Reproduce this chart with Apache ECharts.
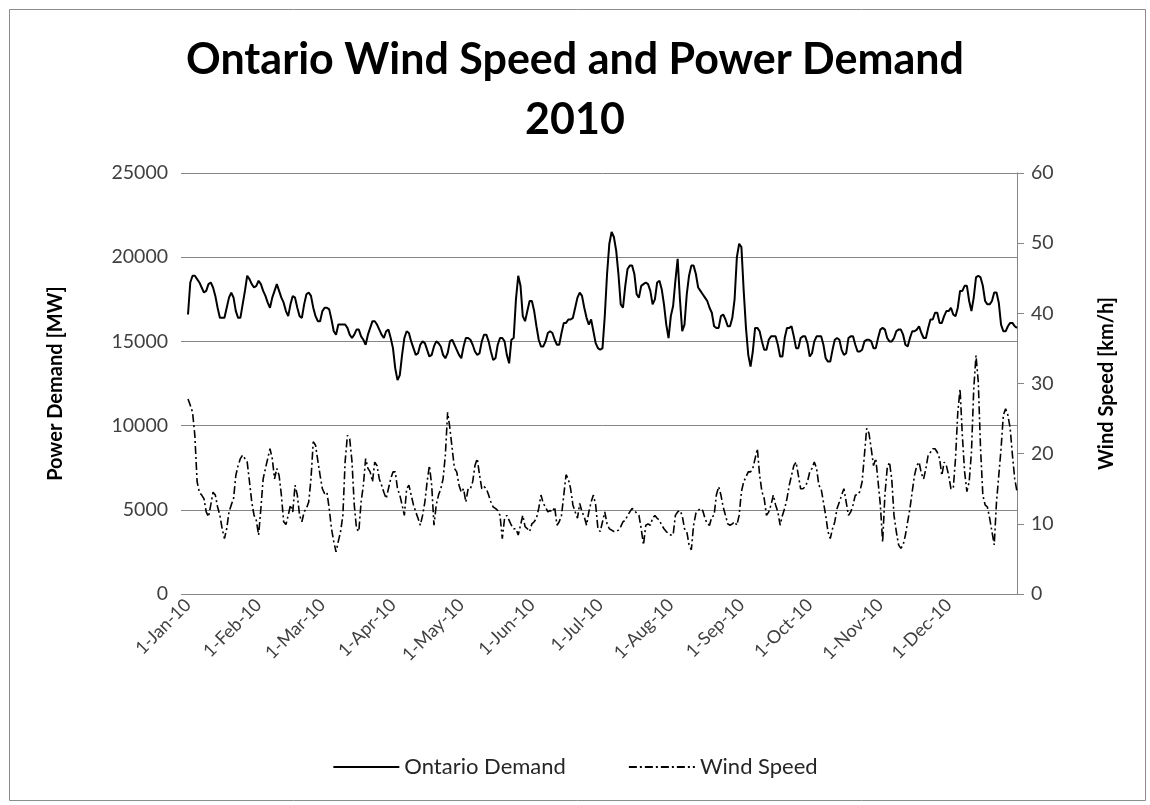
<!DOCTYPE html>
<html>
<head>
<meta charset="utf-8">
<script src="https://cdn.jsdelivr.net/npm/echarts@6/dist/echarts.min.js"></script>
<style>
  html, body { margin: 0; padding: 0; background: #fff; }
  #chart { width: 1150px; height: 805px; }
</style>
</head>
<body>
<div id="chart"></div>
<script>
// Daily values for 2010 (1-Jan-10 .. 31-Dec-10)
const demandJanFeb = [16600, 18500, 18900, 18900, 18700, 18500, 18200, 17900, 18000, 18400,
  18500, 18200, 17700, 17000, 16400, 16400, 16400, 17000, 17600, 17900,
  17600, 16800, 16400, 16400, 17200, 18000, 18900, 18700, 18400, 18200,
  18300, 18600, 18400, 18000, 17700, 17300, 17000, 17600, 18000, 18400,
  18000, 17600, 17300, 16800, 16500, 17200, 17700, 17600, 17000, 16500,
  16400, 17200, 17800, 17900, 17700, 17000, 16500, 16200];
const demandMarApr = [16200, 16800,
  17000, 17000, 16900, 16300, 15600, 15400, 16000, 16000, 16000, 16000,
  15800, 15400, 15200, 15400, 15700, 15700, 15300, 15100, 14800, 15400,
  15800, 16200, 16200, 16000, 15700, 15400, 15200, 15600, 15700, 15200,
  14600, 13400, 12700, 13000, 14200, 15200, 15600, 15500, 15000, 14600,
  14200, 14300, 14800, 15000, 14900, 14500, 14100, 14200, 14700, 15000,
  14900, 14700, 14200, 14000, 14300, 15000, 15100, 14800];
const demandMayJun = [14500, 14200,
  14000, 14700, 15200, 15200, 15100, 14800, 14400, 14200, 14300, 15000,
  15400, 15400, 15000, 14400, 13900, 14000, 14800, 15200, 15200, 15000,
  14200, 13700, 15100, 15200, 17500, 18900, 18300, 16500, 16200, 16800,
  17400, 17400, 16800, 15900, 15100, 14700, 14700, 15000, 15500, 15600,
  15500, 15100, 14800, 14800, 15500, 16100, 16100, 16300, 16300, 16400,
  17000, 17600, 17900, 17700, 17000, 16400, 16000, 16300, 15600, 14900];
const demandJulAug = [14600, 14500, 14600, 16500, 19000, 20800, 21500, 21200, 20400, 19000,
  17200, 17000, 18300, 19300, 19500, 19500, 19000, 17800, 17600, 18300,
  18400, 18500, 18400, 18000, 17200, 17500, 18500, 18600, 18100, 17200,
  16000, 15200, 16500, 17100, 18600, 19900, 17500, 15600, 16000, 17800,
  18900, 19500, 19500, 19000, 18200, 18000, 17800, 17600, 17400, 17000,
  16700, 15900, 15800, 15800, 16500, 16600, 16300, 15900, 15900, 16400,
  17500];
const demandSepOct = [20000, 20800, 20600, 18000, 15800, 14200, 13500, 14400, 15800,
  15800, 15600, 15000, 14500, 14500, 15100, 15300, 15300, 15300, 14800,
  14100, 14100, 15200, 15800, 15800, 15900, 15300, 14600, 14600, 15200,
  15300, 15300, 14900, 14100, 14300, 15000, 15300, 15300, 15300, 14800,
  14000, 13800, 13800, 14500, 15100, 15200, 15100, 14500, 14200, 14300,
  15200, 15300, 15300, 14800, 14400, 14400, 14500, 15000, 15100, 15100,
  15000];
const demandNovDec = [14600, 14600, 15200, 15700, 15800, 15700, 15200, 15000, 15000,
  15200, 15600, 15700, 15700, 15400, 14800, 14700, 15200, 15600, 15600,
  15700, 15900, 15500, 15200, 15200, 15800, 16300, 16300, 16700, 16700,
  16100, 16100, 16500, 16800, 16800, 17000, 16600, 16500, 17000, 18000,
  18000, 18300, 18300, 17400, 16800, 17600, 18800, 18900, 18800, 18300,
  17400, 17200, 17200, 17400, 17900, 17900, 17300, 16000, 15600, 15600,
  15900, 16100, 16100, 15900, 15800];

const windJanFeb = [27.8, 26.9, 25.9, 22.6, 16, 14.5, 14.1, 13.6, 11.7, 11,
  12.7, 14.5, 14.1, 12.4, 11.2, 9.3, 7.9, 9.3, 11.7, 12.7,
  13.6, 16.9, 18.3, 19.3, 19.8, 19.3, 18.8, 16, 13.1, 11.2,
  10.5, 8.4, 12.2, 16.4, 17.9, 19.3, 20.7, 19.3, 16.4, 17.9,
  16.9, 14.1, 10.3, 9.9, 11.2, 12.7, 11.7, 15.5, 14.1, 11.2,
  10.3, 11.7, 12.2, 13.1, 16.4, 21.7, 21.2, 19.0];
const windMarApr = [16.9, 15,
  14.3, 14.5, 12.2, 9.3, 7.5, 6, 7.5, 8.9, 11.2, 18.9,
  22.6, 22.1, 18.9, 12.7, 9.3, 8.9, 13.1, 15.5, 19.3, 17.9,
  17.4, 16, 18.8, 18.3, 16.4, 15.5, 14.5, 13.6, 15, 16.4,
  17.4, 17.4, 15, 14.1, 12.7, 11.2, 15, 15.5, 14.1, 12.7,
  11.7, 10.8, 9.8, 11.2, 13.1, 16, 18.3, 15.5, 9.8, 12.7,
  14.1, 15, 16.4, 19.8, 25.9, 23.6, 20.7, 17.9];
const windMayJun = [17.4, 15.5,
  14.5, 15, 13.1, 15, 15, 16, 18.3, 19.3, 17, 15,
  15.3, 15, 14.1, 13.1, 12.4, 12.2, 11.9, 11.2, 7.9, 10.8,
  11.2, 10.5, 9.8, 9.3, 9.3, 8.4, 9.8, 11.2, 9.6, 9.3,
  8.9, 10, 10.3, 10.8, 12.2, 14.1, 12.9, 12.4, 11.7, 11.9,
  11.7, 12.4, 9.8, 10.3, 11.2, 14.1, 17, 16.4, 15, 12.7,
  11.7, 10.8, 12.9, 11.7, 11, 9.8, 11.7, 13.1, 14.1, 12.7];
const windJulAug = [9.3, 8.9, 10.3, 11.7, 10, 9.3, 9.1, 8.9, 8.9, 9.1,
  9.6, 10.3, 10.5, 11.2, 11.7, 12.2, 11.9, 11.5, 11.2, 9.3,
  7, 9.8, 10, 9.8, 10.8, 11.2, 10.8, 10.5, 9.8, 9.3,
  8.9, 8.6, 8.4, 8.4, 11.2, 11.7, 11.9, 11.2, 9.3, 8.9,
  7, 6.3, 9.8, 11.5, 11.9, 12.2, 11.9, 10.8, 10, 9.8,
  11, 11.2, 14.1, 15.3, 14.1, 12.4, 11.2, 10, 9.8, 10,
  10.3];
const windSepOct = [9.8, 11.2, 14.6, 16, 16.7, 17.4, 17.4, 17.9, 19.3,
  20.7, 16.9, 14.6, 13.6, 11.2, 11.7, 12.7, 14.1, 12.7, 11.7,
  9.8, 11.2, 12.2, 13.6, 15.5, 16.9, 18.3, 18.8, 16.9, 15,
  15, 15.3, 16, 17.4, 17.9, 18.8, 17.9, 15.5, 15, 13.1,
  11.2, 8.9, 7.9, 9.3, 10.3, 12.2, 13.1, 14.1, 15, 13.1,
  11.2, 11.7, 12.7, 14.1, 14.1, 14.6, 16, 19.8, 23.6, 22.9,
  20.7];
const windNovDec = [18.3, 19.3, 16, 12.7, 7.4, 14.1, 17.9, 18.8, 16.4,
  11.2, 8.9, 7, 6.5, 7, 8.4, 10.3, 12.2, 14.6, 16.9,
  18.3, 18.8, 17.2, 16.4, 17.9, 19.8, 20.2, 20.7, 20.7, 20.2,
  19.3, 16.9, 18.8, 18.3, 16.9, 15, 15, 19.3, 25.9, 29.2,
  22.6, 17.4, 14.6, 16, 20.2, 29.2, 34, 30.2, 20.7, 14.1,
  12.7, 12.4, 10.8, 8.9, 7, 13.1, 16.9, 20.7, 25.5, 26.4,
  25.5, 23.6, 19.8, 16.4, 14.6];

const monthNames = ['Jan', 'Feb', 'Mar', 'Apr', 'May', 'Jun', 'Jul', 'Aug', 'Sep', 'Oct', 'Nov', 'Dec'];
const monthLengths = [31, 28, 31, 30, 31, 30, 31, 31, 30, 31, 30, 31];
const leftTicks = { min: 0, max: 25000, interval: 5000 };
const rightTicks = { min: 0, max: 60, interval: 10 };

// categories: one label per day of 2010, e.g. "1-Jan-10"
const categories = [];
monthLengths.forEach((len, m) => {
  for (let d = 1; d <= len; d++) categories.push(d + '-' + monthNames[m] + '-10');
});

const ontarioDemand = [].concat(demandJanFeb, demandMarApr, demandMayJun, demandJulAug, demandSepOct, demandNovDec);
const windSpeed = [].concat(windJanFeb, windMarApr, windMayJun, windJulAug, windSepOct, windNovDec);

const FONT = 'Lato, "Open Sans", sans-serif';
const GRID = '#868686';
const chart = echarts.init(document.getElementById('chart'));
chart.setOption({
  animation: false,
  backgroundColor: '#ffffff',
  textStyle: { fontFamily: FONT },
  graphic: [{
    type: 'rect', left: 7, top: 7, z: -1,
    shape: { width: 1136, height: 791 },
    style: { fill: 'none', stroke: '#8c8c8c', lineWidth: 1 }
  }],
  title: {
    text: 'Ontario Wind Speed and Power Demand\n2010',
    left: 'center', top: 25,
    textStyle: { fontFamily: FONT, fontSize: 43, fontWeight: 'bold', lineHeight: 60, color: '#000' }
  },
  legend: {
    bottom: 22, left: 'center',
    itemWidth: 66, itemHeight: 12, itemGap: 62,
    itemStyle: { opacity: 0 },
    textStyle: { fontFamily: FONT, fontSize: 22, color: '#262626' },
    data: ['Ontario Demand', 'Wind Speed']
  },
  grid: { left: 188, right: 133, top: 173, bottom: 211 },
  xAxis: {
    type: 'category',
    data: categories,
    boundaryGap: false,
    axisLine: { show: true, lineStyle: { color: GRID, width: 1 } },
    axisTick: { show: false },
    splitLine: { show: false },
    axisLabel: {
      interval: (i, v) => v.indexOf('1-') === 0,
      rotate: 45, fontSize: 18, color: '#404040', margin: 8, fontFamily: FONT
    }
  },
  yAxis: [{
    type: 'value', position: 'left',
    min: leftTicks.min, max: leftTicks.max, interval: leftTicks.interval,
    name: 'Power Demand [MW]', nameLocation: 'middle', nameRotate: 90, nameGap: 122,
    nameTextStyle: { fontFamily: FONT, fontSize: 20, fontWeight: 'bold', color: '#000' },
    axisLine: { show: false },
    axisTick: { show: true, length: 7, lineStyle: { color: GRID } },
    splitLine: { show: true, lineStyle: { color: GRID, width: 1 } },
    axisLabel: { fontSize: 19.5, color: '#404040', margin: 20, fontFamily: FONT, formatter: v => String(v) }
  }, {
    type: 'value', position: 'right',
    min: rightTicks.min, max: rightTicks.max, interval: rightTicks.interval,
    name: 'Wind Speed [km/h]', nameLocation: 'middle', nameRotate: 90, nameGap: 80,
    nameTextStyle: { fontFamily: FONT, fontSize: 20, fontWeight: 'bold', color: '#000' },
    axisLine: { show: true, lineStyle: { color: GRID, width: 1 } },
    axisTick: { show: true, length: 7, lineStyle: { color: GRID } },
    splitLine: { show: false },
    axisLabel: { fontSize: 19.5, color: '#404040', margin: 14, fontFamily: FONT }
  }],
  series: [{
    name: 'Ontario Demand', type: 'line', yAxisIndex: 0,
    data: ontarioDemand, symbol: 'none',
    lineStyle: { color: '#000', width: 2 }, itemStyle: { color: '#000' }
  }, {
    name: 'Wind Speed', type: 'line', yAxisIndex: 1,
    data: windSpeed, symbol: 'none',
    lineStyle: { color: '#000', width: 1.6, type: [8, 3, 2, 3] }, itemStyle: { color: '#000' }
  }]
});
</script>
</body>
</html>
